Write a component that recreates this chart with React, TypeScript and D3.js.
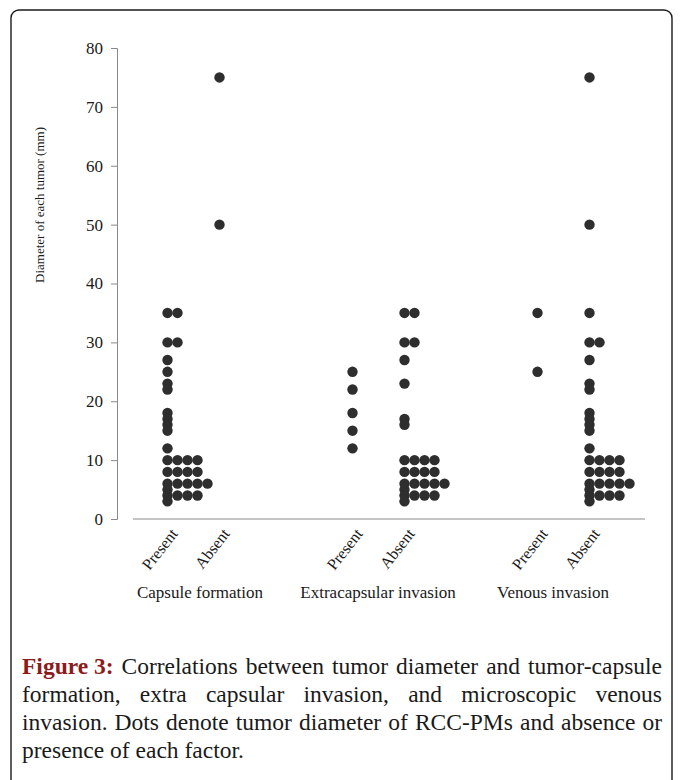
import React, { useEffect, useRef } from "react";
import * as d3 from "d3";

// categories
const groups = ["Capsule formation", "Extracapsular invasion", "Venous invasion"];
const statuses = ["Present", "Absent"];
const yTicks = [0, 10, 20, 30, 40, 50, 60, 70, 80];

// tumor diameters (mm)
const capsulePresent = [35, 35, 30, 30, 27, 25, 23, 22, 18, 17, 16, 15, 12, 10, 10, 10, 10, 8, 8, 8, 8, 6, 6, 6, 6, 6, 5, 4, 4, 4, 4, 3];
const capsuleAbsent = [75, 50];
const extraPresent = [25, 22, 18, 15, 12];
const extraAbsent = [35, 35, 30, 30, 27, 23, 17, 16, 10, 10, 10, 10, 8, 8, 8, 8, 6, 6, 6, 6, 6, 5, 4, 4, 4, 4, 3];
const venousPresent = [35, 25];
const venousAbsent = [75, 50, 35, 30, 30, 27, 23, 22, 18, 17, 16, 15, 12, 10, 10, 10, 10, 8, 8, 8, 8, 6, 6, 6, 6, 6, 5, 4, 4, 4, 4, 3];

const series = [
  { group: groups[0], status: "Present", values: capsulePresent },
  { group: groups[0], status: "Absent", values: capsuleAbsent },
  { group: groups[1], status: "Present", values: extraPresent },
  { group: groups[1], status: "Absent", values: extraAbsent },
  { group: groups[2], status: "Present", values: venousPresent },
  { group: groups[2], status: "Absent", values: venousAbsent },
];

const yTitle = "Diameter of each tumor (mm)";
const captionLead = "Figure 3:";
const captionLines = [
  "Correlations between tumor diameter and tumor-capsule",
  "formation, extra capsular invasion, and microscopic venous",
  "invasion. Dots denote tumor diameter of RCC-PMs and absence or",
  "presence of each factor.",
];

const W = 683;
const H = 780;
const serif = "'Liberation Serif', 'Times New Roman', serif";

export default function App() {
  const svgRef = useRef<SVGSVGElement>(null);

  useEffect(() => {
    const svg = d3.select(svgRef.current);
    svg.selectAll("*").remove();

    // frame
    svg.append("rect")
      .attr("x", 11).attr("y", 10)
      .attr("width", 661).attr("height", 820)
      .attr("rx", 8)
      .attr("fill", "none")
      .attr("stroke", "#1a1a1a")
      .attr("stroke-width", 1.4);

    const y = d3.scaleLinear().domain([0, 80]).range([519, 48]);
    const xGroup = d3.scaleBand().domain(groups).range([101, 656]);
    const xStatus = d3.scalePoint().domain(statuses).range([-26, 26]);
    const xPos = (g: string, s: string) => xGroup(g)! + xGroup.bandwidth() / 2 + xStatus(s)!;

    // y axis
    const yAxis = svg.append("g")
      .attr("transform", "translate(117,0)")
      .call(d3.axisLeft(y).tickValues(yTicks).tickSize(6).tickPadding(8));
    yAxis.select(".domain").attr("stroke", "#8a8a8a");
    yAxis.selectAll(".tick line").attr("stroke", "#8a8a8a");
    yAxis.selectAll("text")
      .attr("font-family", serif)
      .attr("font-size", 17)
      .attr("fill", "#1a1a1a");

    svg.append("text")
      .attr("transform", "translate(44,205) rotate(-90)")
      .attr("text-anchor", "middle")
      .attr("font-family", serif)
      .attr("font-size", 13)
      .attr("fill", "#1a1a1a")
      .text(yTitle);

    // x axis line
    svg.append("line")
      .attr("x1", 133).attr("x2", 645)
      .attr("y1", y(0)).attr("y2", y(0))
      .attr("stroke", "#8a8a8a");

    // status labels
    series.forEach((s) => {
      const x = xPos(s.group, s.status);
      svg.append("text")
        .attr("transform", `translate(${x + 11},${y(0) + 15}) rotate(-52)`)
        .attr("text-anchor", "end")
        .attr("font-family", serif)
        .attr("font-size", 16)
        .attr("fill", "#1a1a1a")
        .text(s.status);
    });

    // group labels
    const groupLabelX = [200, 378, 553];
    groups.forEach((g, i) => {
      svg.append("text")
        .attr("x", groupLabelX[i])
        .attr("y", 598)
        .attr("text-anchor", "middle")
        .attr("font-family", serif)
        .attr("font-size", 17)
        .attr("fill", "#1a1a1a")
        .text(g);
    });

    // dots: equal values stack sideways
    const dotGap = 10;
    series.forEach((s) => {
      const x0 = xPos(s.group, s.status);
      const counts = new Map<number, number>();
      s.values.forEach((v) => {
        const k = counts.get(v) || 0;
        counts.set(v, k + 1);
        svg.append("circle")
          .attr("cx", x0 + k * dotGap)
          .attr("cy", y(v))
          .attr("r", 5.2)
          .attr("fill", "#2e2e2e");
      });
    });

    // caption, justified
    const left = 22;
    const right = 662;
    const baselines = [674, 702, 730, 758];
    const fontSize = 23.5;
    captionLines.forEach((line, i) => {
      const words = line.split(" ").map((w) => ({ text: w, lead: false }));
      if (i === 0) {
        words.unshift({ text: captionLead, lead: true });
      }
      const nodes = words.map((w) =>
        svg.append("text")
          .attr("y", baselines[i])
          .attr("font-family", serif)
          .attr("font-size", fontSize)
          .attr("font-weight", w.lead ? "bold" : "normal")
          .attr("fill", w.lead ? "#8b1c1c" : "#1a1a1a")
          .text(w.text)
      );
      const widths = nodes.map((n) => (n.node() as SVGTextElement).getComputedTextLength());
      const total = d3.sum(widths);
      const justify = i < captionLines.length - 1;
      const gap = justify ? (right - left - total) / (nodes.length - 1) : fontSize * 0.25;
      let cx = left;
      nodes.forEach((n, j) => {
        n.attr("x", cx);
        cx += widths[j] + gap;
      });
    });
  }, []);

  return (
    <svg
      ref={svgRef}
      width={W}
      height={H}
      style={{ position: "absolute", left: 0, top: 0, background: "#fff" }}
    />
  );
}
